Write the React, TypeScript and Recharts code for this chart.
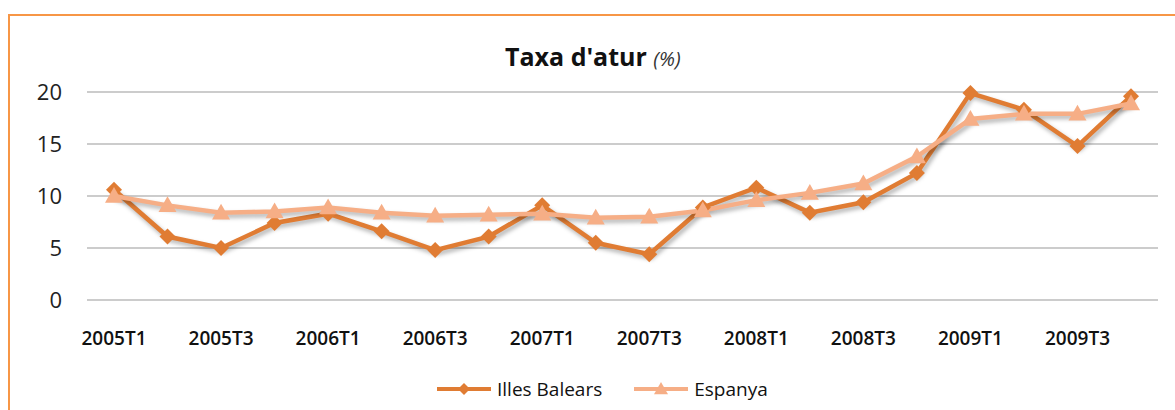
import { CartesianGrid, Line, LineChart, XAxis, YAxis } from 'recharts';

const quarters = [
  '2005T1', '2005T2', '2005T3', '2005T4',
  '2006T1', '2006T2', '2006T3', '2006T4',
  '2007T1', '2007T2', '2007T3', '2007T4',
  '2008T1', '2008T2', '2008T3', '2008T4',
  '2009T1', '2009T2', '2009T3', '2009T4',
];

const illesBalears = [
  10.6, 6.1, 5.0, 7.4, 8.3, 6.6, 4.8, 6.1, 9.1, 5.5,
  4.4, 8.9, 10.8, 8.4, 9.4, 12.2, 19.9, 18.3, 14.8, 19.6,
];

const espanya = [
  10.0, 9.1, 8.4, 8.5, 8.9, 8.4, 8.1, 8.2, 8.3, 7.9,
  8.0, 8.6, 9.6, 10.3, 11.2, 13.8, 17.4, 17.9, 17.9, 18.9,
];

const yTicks = [0, 5, 10, 15, 20];

const DARK = '#E07C33';
const LIGHT = '#F6AE86';
const FONT = '"Open Sans", "Noto Sans", sans-serif';

const rows = quarters.map((q, i) => ({
  quarter: q,
  balears: illesBalears[i],
  espanya: espanya[i],
}));

function Diamond({ cx, cy, fill, size = 7 }: any) {
  if (cx == null || cy == null) return null;
  return (
    <path
      d={`M${cx},${cy - size} L${cx + size},${cy} L${cx},${cy + size} L${cx - size},${cy} Z`}
      fill={fill}
    />
  );
}

function Triangle({ cx, cy, fill, size = 7 }: any) {
  if (cx == null || cy == null) return null;
  return (
    <path
      d={`M${cx},${cy - size} L${cx + size},${cy + size * 0.75} L${cx - size},${cy + size * 0.75} Z`}
      fill={fill}
    />
  );
}

function LegendItem({ color, label, shape }: { color: string; label: string; shape: 'diamond' | 'triangle' }) {
  return (
    <span style={{ display: 'inline-flex', alignItems: 'center', marginRight: 32 }}>
      <svg width={54} height={20}>
        <line x1={0} y1={10} x2={54} y2={10} stroke={color} strokeWidth={4} />
        {shape === 'diamond' ? (
          <Diamond cx={27} cy={10} fill={color} size={6} />
        ) : (
          <Triangle cx={27} cy={10} fill={color} size={7} />
        )}
      </svg>
      <span style={{ marginLeft: 6 }}>{label}</span>
    </span>
  );
}

export default function App() {
  return (
    <>
      <style>{`html,body{margin:0;overflow:hidden;background:#fff}
.shadowed path{filter:drop-shadow(2px 3px 2px rgba(0,0,0,0.3));}`}</style>
      <div
        style={{
          position: 'absolute',
          left: 8,
          top: 14,
          width: 1167,
          height: 396,
          borderTop: '2px solid #F79646',
          borderLeft: '2px solid #F79646',
          boxSizing: 'border-box',
          fontFamily: FONT,
        }}
      >
        <div
          style={{
            position: 'absolute',
            top: 23,
            left: 495,
            whiteSpace: 'nowrap',
            fontSize: 25,
            fontWeight: 700,
            color: '#111',
          }}
        >
          Taxa d'atur{' '}
          <span style={{ fontSize: 20, fontWeight: 400, fontStyle: 'italic', color: '#333' }}>(%)</span>
        </div>

        <LineChart
          width={1165}
          height={394}
          data={rows}
          margin={{ top: 76, right: 17, bottom: 50, left: 0 }}
        >
          <CartesianGrid vertical={false} stroke="#9a9a9a" strokeWidth={1.2} />
          <XAxis
            dataKey="quarter"
            interval={1}
            axisLine={false}
            tickLine={false}
            tickSize={0}
            tickMargin={32}
            height={60}
            padding={{ left: 27, right: 27 }}
            tick={{ fill: '#111', fontSize: 19, fontWeight: 600, fontFamily: FONT }}
          />
          <YAxis
            domain={[0, 20]}
            ticks={yTicks}
            width={77}
            axisLine={false}
            tickLine={false}
            tickSize={0}
            tickMargin={25}
            tick={{ fill: '#222', fontSize: 22, fontFamily: FONT }}
          />
          <Line
            className="shadowed"
            dataKey="balears"
            stroke={DARK}
            strokeWidth={4.5}
            isAnimationActive={false}
            dot={(p: any) => <Diamond key={`b${p.index}`} cx={p.cx} cy={p.cy} fill={DARK} size={8} />}
            activeDot={false}
          />
          <Line
            className="shadowed"
            dataKey="espanya"
            stroke={LIGHT}
            strokeWidth={4.5}
            isAnimationActive={false}
            dot={(p: any) => <Triangle key={`e${p.index}`} cx={p.cx} cy={p.cy} fill={LIGHT} size={9} />}
            activeDot={false}
          />
        </LineChart>

        <div
          style={{
            position: 'absolute',
            top: 360,
            left: 427,
            fontSize: 19,
            color: '#111',
            display: 'flex',
            alignItems: 'center',
          }}
        >
          <LegendItem color={DARK} label="Illes Balears" shape="diamond" />
          <LegendItem color={LIGHT} label="Espanya" shape="triangle" />
        </div>
      </div>
    </>
  );
}
